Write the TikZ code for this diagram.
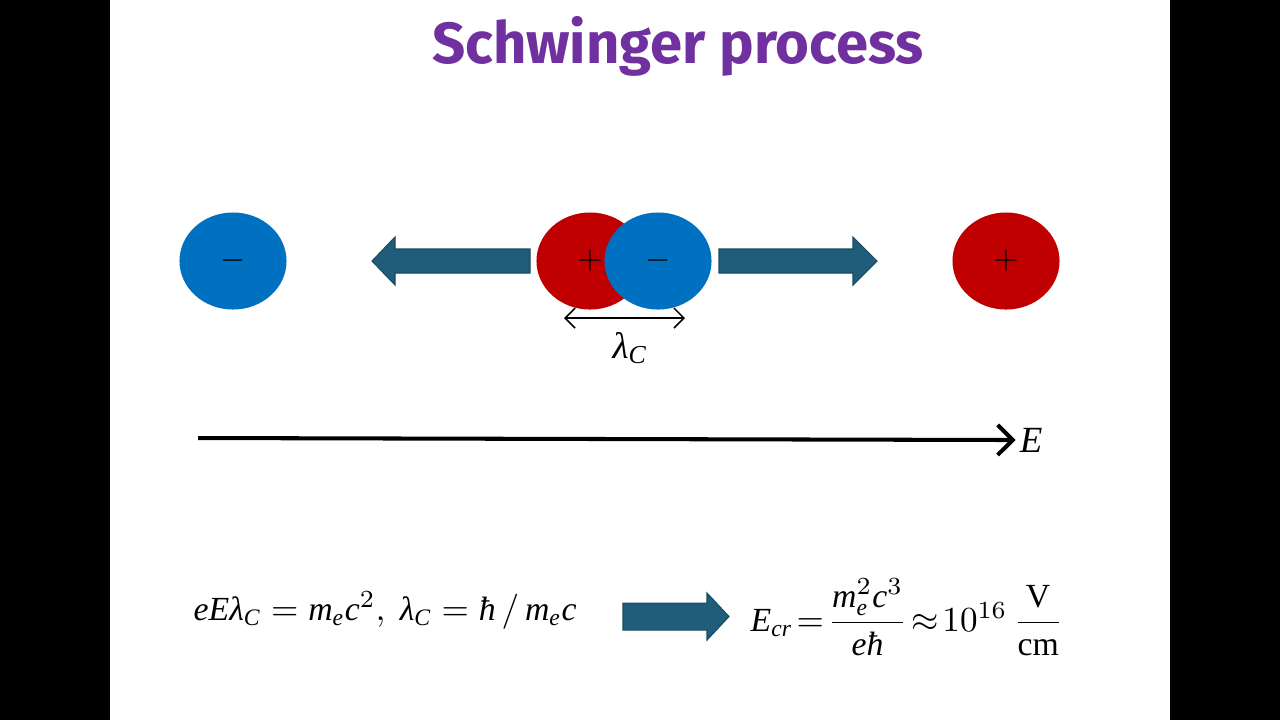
\documentclass[tikz,border=0pt]{standalone}
\usepackage{amsmath}
\usepackage{fontspec}
\setmainfont{Liberation Serif}
\newfontfamily\titlefont{Fira Sans}
\usetikzlibrary{shapes.geometric,arrows.meta}

\definecolor{titlepurple}{RGB}{112,48,160}
\definecolor{eblue}{RGB}{0,112,192}
\definecolor{pred}{RGB}{192,0,0}
\definecolor{pushteal}{RGB}{31,93,123}

% italic Times letters inside math
\newcommand{\ti}[1]{\textit{#1}}

\tikzset{
  particle/.style={ellipse,minimum width=1.07cm,minimum height=0.97cm,inner sep=0pt,
    font=\fontsize{9}{9}\selectfont},
  electron/.style={particle,fill=eblue},
  positron/.style={particle,fill=pred},
  push/.style={fill=pushteal,draw=pushteal!80!black,line width=0.3pt},
  eqn/.style={inner sep=0pt,font=\fontsize{9.6}{11}\selectfont},
}

\begin{document}
\begin{tikzpicture}[x=0.01cm,y=-0.01cm]
\useasboundingbox (0,0) rectangle (1280,720);
\fill[black] (0,0) rectangle (1280,720);
\fill[white] (110,0) rectangle (1170,720);

% title
\node[anchor=base,text=titlepurple,inner sep=0pt,font=\titlefont\bfseries\fontsize{16.5}{18}\selectfont]
  (title) at (678,63) {Schwinger process};

% particles
\node[electron] (eleft) at (233,261) {$-$};
\node[positron] (ppair) at (590,261) {$+$};
\node[electron] (epair) at (658,261) {$-$};
\node[positron] (pright) at (1006,261) {$+$};

% pushing arrows
\fill[push] (530,249) -- (395,249) -- (395,237) -- (372,261) -- (395,285) -- (395,273) -- (530,273) -- cycle;
\fill[push] (719,249) -- (853,249) -- (853,237) -- (877,261) -- (853,285) -- (853,273) -- (719,273) -- cycle;

% compton length
\coordinate (lamL) at (564,318);
\coordinate (lamR) at (685,318);
\draw[line width=0.45pt,{Straight Barb[length=1mm,width=2mm]}-{Straight Barb[length=1mm,width=2mm]}] (lamL) -- (lamR);
\node[font=\fontsize{10.5}{10}\selectfont] (lam) at (630,348) {$\ti{λ}_{\ti{C}}$};

% field
\coordinate (axisL) at (198,438);
\node[font=\fontsize{10.5}{10}\selectfont,inner sep=1pt] (Efield) at (1031,440) {\ti{E}};
\draw[line width=1.15pt,-{Straight Barb[length=1.5mm,width=3mm]}] (axisL) -- (Efield.west);

% equations
\node[eqn,anchor=base west] (eq1) at (193,620)
  {$\ti{eEλ}_{\ti{C}} = \ti{m}_{\ti{e}}\ti{c}^{2},\ \ti{λ}_{\ti{C}} = \ti{ħ}\,/\,\ti{m}_{\ti{e}}\ti{c}$};
\fill[push] (623,603) -- (707,603) -- (707,593) -- (729,616.5) -- (707,640) -- (707,630) -- (623,630) -- cycle;
\node[eqn,anchor=west] (eq2) at (750,617)
  {$\thickmuskip=2mu \ti{E}_{\ti{cr}} = \dfrac{\ti{m}_{\ti{e}}^{2}\ti{c}^{3}}{\ti{eħ}} \approx 10^{16}\,\dfrac{\text{V}}{\text{cm}}$};
\end{tikzpicture}
\end{document}
